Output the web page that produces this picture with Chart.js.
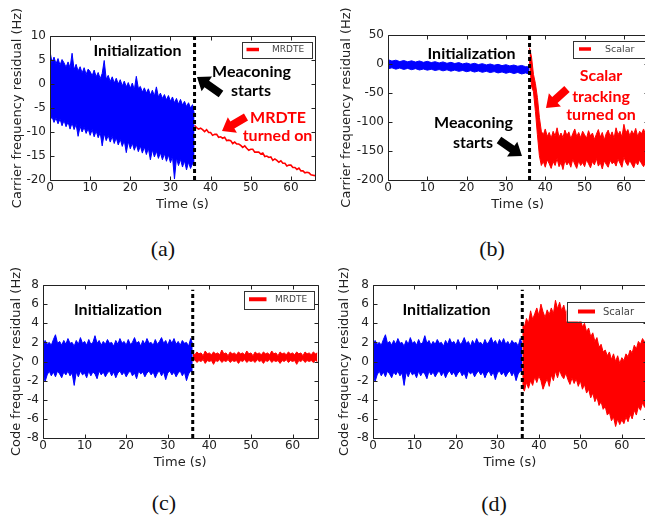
<!DOCTYPE html>
<html>
<head>
<meta charset="utf-8">
<script src="https://cdn.jsdelivr.net/npm/chart.js@4.4.0/dist/chart.umd.min.js"></script>
<style>
  html, body { margin: 0; padding: 0; width: 645px; height: 521px; overflow: hidden; background: #fff; }
  canvas.panel { position: absolute; }
  .cap { position: absolute; width: 100px; text-align: center; font-family: "Liberation Serif", "Times New Roman", serif;
         font-size: 22px; line-height: 22px; color: #111; }
</style>
</head>
<body>
<canvas id="pa" class="panel" width="330" height="230" style="left:0;top:0"></canvas>
<canvas id="pb" class="panel" width="330" height="230" style="left:330px;top:0"></canvas>
<canvas id="pc" class="panel" width="330" height="220" style="left:0;top:262px"></canvas>
<canvas id="pd" class="panel" width="330" height="220" style="left:330px;top:262px"></canvas>
<div class="cap" style="left:113px;top:238px">(a)</div>
<div class="cap" style="left:442px;top:238px">(b)</div>
<div class="cap" style="left:114px;top:492px">(c)</div>
<div class="cap" style="left:444px;top:493px">(d)</div>
<script>
// ---------------- data ----------------
const MEACONING_T = 36;           // meaconing onset (s)
const TIME_TICKS = [0, 10, 20, 30, 40, 50, 60];
const CARRIER_A_TICKS = [-20, -15, -10, -5, 0, 5, 10];
const CARRIER_B_TICKS = [-200, -150, -100, -50, 0, 50];
const CODE_TICKS = [-8, -6, -4, -2, 0, 2, 4, 6, 8];

// (a) carrier residual, initialization (0-36 s, every 0.5 s): upper / lower envelope
const carrierInitA_hi = [6.8,4.5,5.6,4.2,5.3,3.9,5.1,4.4,3.5,4.6,3.4,6.4,3.0,4.1,2.7,3.6,2.3,3.4,2.0,3.1,
  2.6,1.7,2.9,1.5,2.4,1.1,2.2,4.9,1.0,1.8,0.5,1.5,0.2,1.2,0.0,0.9,-0.4,0.6,-0.6,0.3,
  -0.9,0.2,-1.2,1.6,-0.9,-0.5,-1.7,-0.8,-1.9,-1.0,-2.3,-1.3,-2.5,-0.6,-2.7,-1.9,-3.0,-2.2,-3.3,-2.4,
  -3.6,-2.7,-3.9,-3.0,-4.2,-3.2,-4.4,-3.6,-4.7,-3.9,-5.0,-4.3,-6.5];
const carrierInitA_lo = [-7.6,-6.8,-8.0,-7.1,-8.3,-7.3,-8.7,-7.6,-8.9,-7.9,-9.4,-8.1,-9.5,-8.4,-10.9,-8.8,-10.0,-9.0,-10.3,-9.3,
  -10.7,-9.5,-11.0,-9.8,-11.2,-10.1,-12.9,-10.3,-11.8,-10.7,-12.1,-10.9,-12.4,-11.2,-12.7,-11.5,-13.0,-11.8,-14.3,-12.0,
  -13.5,-12.3,-13.8,-12.6,-14.1,-12.9,-14.4,-13.1,-14.7,-13.4,-15.8,-13.7,-15.2,-14.0,-15.5,-14.3,-15.8,-14.5,-16.1,-14.8,
  -16.4,-15.1,-19.8,-15.4,-17.0,-15.7,-17.3,-16.0,-17.9,-16.3,-17.6,-16.6,-17.1];
// (a) MRDTE carrier residual (36-66 s, every 0.5 s)
const carrierMRDTE = [-8.6,-9.1,-9.4,-9.2,-9.5,-9.9,-9.5,-10.1,-10.1,-10.7,-10.5,-10.5,-11.1,-11.0,-11.3,-11.1,-11.8,-11.7,-11.8,-12.4,
  -12.1,-12.5,-12.5,-12.8,-13.2,-12.9,-13.4,-13.8,-13.6,-13.6,-14.2,-14.2,-14.2,-14.6,-14.4,-15.1,-15.0,-15.3,-15.2,-15.9,
  -15.6,-15.9,-16.3,-16.0,-16.5,-16.5,-17.1,-16.9,-16.9,-17.4,-17.4,-17.8,-17.5,-18.1,-18.1,-18.5,-18.4,-18.5,-18.9,-19.0,-19.1];

// (b) carrier residual, initialization (0-36 s, every 1 s)
const carrierInitB_hi = [7.5,5.0,6.6,4.2,6.0,3.8,5.5,3.4,5.2,2.9,4.6,2.5,4.0,1.8,3.6,1.2,2.9,0.8,2.4,0.1,
  1.7,-0.4,1.2,-1.0,0.6,-1.6,0.0,-2.1,-0.6,-2.8,-1.2,-3.3,-1.8,-3.9,-2.5,-4.6,-5.0];
const carrierInitB_lo = [-8.2,-6.6,-8.9,-7.0,-9.4,-7.6,-9.8,-8.0,-10.3,-8.7,-10.6,-9.1,-11.2,-9.6,-11.8,-10.0,-12.3,-10.5,-12.7,-11.1,
  -13.3,-11.6,-13.9,-12.0,-14.4,-12.5,-14.8,-13.1,-15.4,-13.7,-16.0,-14.1,-16.5,-14.6,-17.2,-15.4,-17.6];
// (b) scalar tracking carrier residual (36-66 s, every 0.5 s)
const carrierScalar_hi = [28,12,-18,-34,-58,-92,-116,-122,-112,-125,-118,-128,-116,-124,-110,-126,-119,-127,-114,-123,
  -117,-129,-120,-112,-125,-118,-127,-116,-122,-128,-115,-124,-119,-130,-121,-113,-126,-118,-131,-120,
  -114,-125,-117,-128,-110,-122,-116,-126,-104,-119,-113,-124,-115,-121,-111,-125,-116,-120,-112,-122,-117];
const carrierScalar_lo = [5,-38,-48,-82,-122,-158,-175,-168,-178,-165,-172,-180,-168,-175,-163,-177,-170,-182,-166,-174,
  -169,-178,-164,-173,-180,-167,-175,-170,-177,-165,-172,-179,-168,-174,-163,-176,-170,-181,-167,-173,
  -178,-166,-172,-169,-176,-164,-171,-178,-160,-170,-175,-166,-173,-179,-168,-174,-165,-172,-177,-169,-173];

// (c)/(d) code residual, initialization (0-36 s, every 0.5 s)
const codeInit_hi = [1.6,2.2,1.8,2.0,1.7,2.3,2.8,1.9,2.1,1.7,2.2,1.8,2.4,1.9,2.0,1.6,2.2,1.8,2.5,1.9,
  2.1,1.7,2.3,1.8,2.0,2.7,1.9,2.2,1.7,2.1,1.8,2.3,1.9,2.0,1.6,2.2,1.8,2.4,1.9,2.1,
  1.7,2.3,1.8,2.0,2.5,1.9,2.1,1.6,2.2,1.8,2.4,1.9,2.0,1.7,2.3,1.8,2.1,2.5,1.9,2.2,
  1.7,2.3,1.9,2.4,1.8,2.1,1.7,2.2,1.9,2.0,1.6,2.4,1.8];
const codeInit_lo = [-1.2,-2.1,-1.4,-1.0,-1.5,-1.1,-1.6,-1.0,-1.3,-1.7,-1.1,-1.4,-1.0,-1.5,-1.2,-2.5,-1.1,-1.6,-1.0,-1.4,
  -1.2,-1.7,-1.0,-1.5,-1.1,-1.3,-1.8,-1.0,-1.4,-1.1,-1.6,-1.2,-1.0,-1.5,-1.1,-1.7,-1.2,-1.0,-1.4,-1.1,
  -1.6,-1.2,-1.0,-1.5,-1.2,-1.8,-1.0,-1.3,-1.1,-1.6,-1.2,-1.0,-1.4,-1.1,-1.7,-1.2,-1.0,-1.5,-1.1,-1.9,
  -1.2,-1.0,-1.4,-1.1,-1.6,-1.2,-1.0,-1.5,-1.1,-2.0,-1.3,-1.0,-1.2];
// (c) MRDTE code residual (36-66 s, every 0.5 s)
const codeMRDTE_hi = [0.9,0.7,1.0,0.8,0.9,0.6,1.1,0.8,0.9,0.7,1.0,0.8,0.9,0.7,1.2,0.8,0.9,0.6,1.0,0.8,
  0.9,0.7,1.0,0.8,0.9,0.7,1.1,0.8,0.9,0.6,1.0,0.8,0.9,0.7,1.0,0.8,0.9,0.7,1.1,0.8,
  0.9,0.6,1.0,0.8,0.9,0.7,1.0,0.8,0.9,0.7,1.0,0.8,0.9,0.6,1.0,0.8,0.9,0.7,1.0,0.8,0.9];
const codeMRDTE_lo = [0.0,0.2,-0.1,0.1,0.0,0.2,-0.2,0.1,0.0,0.1,-0.3,0.1,0.0,0.2,-0.1,0.1,0.0,0.2,-0.1,0.1,
  0.0,0.1,-0.2,0.1,0.0,0.2,-0.1,0.1,0.0,0.1,-0.1,0.2,0.0,0.1,-0.2,0.1,0.0,0.2,-0.1,0.1,
  0.0,0.1,-0.2,0.1,0.0,0.2,-0.1,0.1,0.0,0.1,-0.3,0.1,0.0,0.2,-0.1,0.1,0.0,0.1,-0.1,0.1,0.0];
// (d) scalar tracking code residual (36-66 s, every 0.5 s)
const codeScalar_hi = [4.0,3.6,4.5,4.0,5.3,4.4,5.0,5.6,4.8,6.0,5.2,4.6,5.4,4.9,5.6,5.0,6.4,5.5,6.2,5.3,
  5.9,5.0,5.6,4.6,5.3,4.3,4.9,4.0,4.5,3.6,4.0,3.1,3.5,2.6,3.0,2.1,2.5,1.5,1.8,1.0,
  1.2,0.6,1.0,0.2,0.8,0.0,0.6,-0.2,0.4,0.1,0.8,0.5,1.2,0.9,1.7,1.3,2.1,1.8,2.4,2.0,2.6];
const codeScalar_lo = [-2.6,-3.1,-2.2,-2.8,-2.0,-2.5,-1.6,-2.2,-1.5,-2.0,-2.9,-2.3,-1.8,-2.6,-1.4,-2.0,-1.0,-1.7,-0.9,-1.5,
  -1.8,-1.2,-1.9,-2.4,-1.7,-2.3,-1.8,-2.6,-2.0,-2.9,-2.4,-3.3,-2.9,-3.8,-3.3,-4.2,-3.7,-4.6,-4.2,-5.0,
  -4.7,-5.6,-5.3,-6.2,-5.8,-6.8,-6.0,-6.6,-6.1,-6.5,-5.8,-6.3,-5.5,-6.0,-5.1,-5.6,-4.7,-5.1,-4.3,-4.8,-4.0];

// ---------------- helpers ----------------
const BLUE = '#0000ff', RED = '#ff0000';
const TICK_FONT = { family: 'DejaVu Sans', size: 12 };
const TITLE_FONT = { family: 'DejaVu Sans', size: 13 };

// sample list -> {x, y} points on a regular time grid
function samples(t0, dt, values) {
  return values.map((v, i) => ({ x: t0 + i * dt, y: v }));
}

function drawArrow(ctx, a) {
  const [x1, y1] = a.from, [x2, y2] = a.to;
  const dx = x2 - x1, dy = y2 - y1, len = Math.hypot(dx, dy);
  const ux = dx / len, uy = dy / len, nx = -uy, ny = ux;
  const sw = a.shaft / 2, hw = a.head / 2;
  const bx = x2 - ux * a.headLen, by = y2 - uy * a.headLen;
  ctx.fillStyle = a.color;
  ctx.beginPath();
  ctx.moveTo(x1 + nx * sw, y1 + ny * sw);
  ctx.lineTo(bx + nx * sw, by + ny * sw);
  ctx.lineTo(bx + nx * hw, by + ny * hw);
  ctx.lineTo(x2, y2);
  ctx.lineTo(bx - nx * hw, by - ny * hw);
  ctx.lineTo(bx - nx * sw, by - ny * sw);
  ctx.lineTo(x1 - nx * sw, y1 - ny * sw);
  ctx.closePath();
  ctx.fill();
}

// axes frame with inward ticks, legend box, text notes and block arrows
function decorPlugin(spec) {
  return {
    id: 'decor',
    afterDraw(chart) {
      const ctx = chart.ctx;
      const { left, right, top, bottom } = chart.chartArea;
      const xs = chart.scales.x, ys = chart.scales.y;
      ctx.save();
      const L = Math.round(left) + 0.5, R = Math.round(right) + 0.5;
      const T = Math.round(top) + 0.5, B = Math.round(bottom) + 0.5;
      ctx.strokeStyle = '#222';
      ctx.lineWidth = 1;
      ctx.beginPath();
      ctx.rect(L, T, R - L, B - T);
      xs.ticks.forEach(t => {
        const p = Math.round(xs.getPixelForValue(t.value)) + 0.5;
        ctx.moveTo(p, B); ctx.lineTo(p, B - 4);
        ctx.moveTo(p, T); ctx.lineTo(p, T + 4);
      });
      ys.ticks.forEach(t => {
        const p = Math.round(ys.getPixelForValue(t.value)) + 0.5;
        ctx.moveTo(L, p); ctx.lineTo(L + 4, p);
        ctx.moveTo(R, p); ctx.lineTo(R - 4, p);
      });
      ctx.stroke();

      ctx.translate(-spec.ox, -spec.oy);
      const lg = spec.legend;
      const my = lg.y + lg.h / 2;
      ctx.fillStyle = '#fff';
      ctx.fillRect(lg.x, lg.y, lg.w, lg.h);
      ctx.strokeStyle = '#333';
      ctx.lineWidth = 1;
      ctx.strokeRect(Math.round(lg.x) + 0.5, Math.round(lg.y) + 0.5, Math.round(lg.w), Math.round(lg.h));
      ctx.strokeStyle = RED;
      ctx.lineWidth = lg.lw;
      ctx.beginPath(); ctx.moveTo(lg.x1, my); ctx.lineTo(lg.x2, my); ctx.stroke();
      ctx.fillStyle = '#444';
      ctx.font = lg.size + 'px "DejaVu Sans"';
      ctx.textAlign = 'left';
      ctx.textBaseline = 'middle';
      ctx.fillText(lg.label, lg.tx, my + 0.5);

      ctx.textAlign = 'center';
      spec.notes.forEach(n => {
        ctx.font = 'bold ' + (n.size || 16) + 'px Lato';
        ctx.fillStyle = n.color;
        ctx.fillText(n.text, n.x, n.y);
      });
      spec.arrows.forEach(a => drawArrow(ctx, a));
      ctx.restore();
    }
  };
}

function makePanel(id, p) {
  const datasets = [{
    data: [{ x: MEACONING_T, y: p.vline[0] }, { x: MEACONING_T, y: p.vline[1] }],
    borderColor: '#000', borderWidth: 3, borderDash: [4, 3], pointRadius: 0, fill: false, order: 0
  }];
  p.bands.forEach(b => {
    datasets.push({ label: b.label, data: b.hi, borderColor: b.color, borderWidth: 1, pointRadius: 0,
                    fill: { target: '+1', above: b.color, below: b.color }, order: 1 });
    datasets.push({ data: b.lo, borderColor: b.color, borderWidth: 1, pointRadius: 0, fill: false, order: 1 });
  });
  (p.lines || []).forEach(l => {
    datasets.push({ label: l.label, data: l.data, borderColor: l.color, borderWidth: 1.6, pointRadius: 0, fill: false, order: 1 });
  });

  return new Chart(document.getElementById(id), {
    type: 'line',
    data: { datasets },
    options: {
      responsive: false, animation: false, events: [],
      parsing: false, normalized: true,
      layout: { padding: p.pad },
      plugins: { legend: { display: false }, tooltip: { enabled: false } },
      scales: {
        x: {
          type: 'linear', min: 0, max: 66,
          grid: { display: false, drawTicks: false }, border: { display: false },
          afterBuildTicks: s => { s.ticks = TIME_TICKS.map(v => ({ value: v })); },
          ticks: { font: TICK_FONT, color: '#222', padding: 1, maxRotation: 0, autoSkip: false },
          title: { display: true, text: 'Time (s)', font: TITLE_FONT, color: '#222', padding: 0 },
          afterFit: s => { s.height = 32; }
        },
        y: {
          type: 'linear', min: p.yRange[0], max: p.yRange[1],
          grid: { display: false, drawTicks: false }, border: { display: false },
          afterBuildTicks: s => { s.ticks = p.yTicks.map(v => ({ value: v })); },
          ticks: { font: TICK_FONT, color: '#222', padding: 4, autoSkip: false },
          title: { display: true, text: p.yTitle, font: TITLE_FONT, color: '#222', padding: { top: p.titlePad, bottom: 0 } },
          afterFit: s => { s.width = p.yWidth; }
        }
      }
    },
    plugins: [decorPlugin(p.decor)]
  });
}

const BLACK_ARROW = { color: '#000', shaft: 8, head: 18, headLen: 12 };
const RED_ARROW = { color: RED, shaft: 8, head: 18, headLen: 12 };

// (a) carrier frequency residual with MRDTE
makePanel('pa', {
  yRange: [-20, 10], yTicks: CARRIER_A_TICKS, yTitle: 'Carrier frequency residual (Hz)',
  yWidth: 50, titlePad: 10, pad: { top: 36, right: 15, bottom: 18, left: 0 },
  vline: [-20, 10],
  bands: [{ color: BLUE, hi: samples(0, 0.5, carrierInitA_hi), lo: samples(0, 0.5, carrierInitA_lo) }],
  lines: [{ label: 'MRDTE', color: RED, data: samples(MEACONING_T, 0.5, carrierMRDTE) }],
  decor: {
    ox: 0, oy: 0,
    legend: { x: 241.5, y: 41.5, w: 70, h: 16, x1: 246.5, x2: 259, tx: 272, lw: 3.5, size: 9, label: 'MRDTE' },
    notes: [
      { text: 'Initialization', x: 137.5, y: 51, color: '#000' },
      { text: 'Meaconing', x: 251.5, y: 72, color: '#000' },
      { text: 'starts', x: 251, y: 91, color: '#000' },
      { text: 'MRDTE', x: 278, y: 117.5, color: RED },
      { text: 'turned on', x: 277.5, y: 136, color: RED }
    ],
    arrows: [
      Object.assign({ from: [221, 94], to: [197, 77] }, BLACK_ARROW),
      Object.assign({ from: [246, 117], to: [222, 131] }, RED_ARROW)
    ]
  }
});

// (b) carrier frequency residual with scalar tracking
makePanel('pb', {
  yRange: [-200, 50], yTicks: CARRIER_B_TICKS, yTitle: 'Carrier frequency residual (Hz)',
  yWidth: 58, titlePad: 9, pad: { top: 35, right: 12.5, bottom: 18, left: 0 },
  vline: [-200, 50],
  bands: [
    { color: BLUE, hi: samples(0, 1, carrierInitB_hi), lo: samples(0, 1, carrierInitB_lo) },
    { label: 'Scalar', color: RED, hi: samples(MEACONING_T, 0.5, carrierScalar_hi), lo: samples(MEACONING_T, 0.5, carrierScalar_lo) }
  ],
  decor: {
    ox: 330, oy: 0,
    legend: { x: 573, y: 40.5, w: 71.5, h: 17, x1: 579, x2: 591, tx: 605, lw: 3.5, size: 9.5, label: 'Scalar' },
    notes: [
      { text: 'Initialization', x: 471.5, y: 53.5, color: '#000' },
      { text: 'Meaconing', x: 473.5, y: 123, color: '#000' },
      { text: 'starts', x: 473, y: 143, color: '#000' },
      { text: 'Scalar', x: 601, y: 76, color: RED },
      { text: 'tracking', x: 601, y: 96.5, color: RED },
      { text: 'turned on', x: 601, y: 115, color: RED }
    ],
    arrows: [
      Object.assign({ from: [499, 140], to: [522, 156] }, BLACK_ARROW),
      Object.assign({ from: [567, 89], to: [546, 108] }, RED_ARROW)
    ]
  }
});

// (c) code frequency residual with MRDTE
makePanel('pc', {
  yRange: [-8, 8], yTicks: CODE_TICKS, yTitle: 'Code frequency residual (Hz)',
  yWidth: 43, titlePad: 9, pad: { top: 23, right: 12.5, bottom: 12, left: 0 },
  vline: [-8, 7.5],
  bands: [
    { color: BLUE, hi: samples(0, 0.5, codeInit_hi), lo: samples(0, 0.5, codeInit_lo) },
    { label: 'MRDTE', color: RED, hi: samples(MEACONING_T, 0.5, codeMRDTE_hi), lo: samples(MEACONING_T, 0.5, codeMRDTE_lo) }
  ],
  decor: {
    ox: 0, oy: 262,
    legend: { x: 244, y: 290.5, w: 69.5, h: 17.5, x1: 249, x2: 266.5, tx: 275, lw: 4, size: 9, label: 'MRDTE' },
    notes: [{ text: 'Initialization', x: 118, y: 310, color: '#000' }],
    arrows: []
  }
});

// (d) code frequency residual with scalar tracking
makePanel('pd', {
  yRange: [-8, 8], yTicks: CODE_TICKS, yTitle: 'Code frequency residual (Hz)',
  yWidth: 43, titlePad: 7, pad: { top: 23, right: 13.3, bottom: 12, left: 0 },
  vline: [-8, 7.5],
  bands: [
    { color: BLUE, hi: samples(0, 0.5, codeInit_hi), lo: samples(0, 0.5, codeInit_lo) },
    { label: 'Scalar', color: RED, hi: samples(MEACONING_T, 0.5, codeScalar_hi), lo: samples(MEACONING_T, 0.5, codeScalar_lo) }
  ],
  decor: {
    ox: 330, oy: 262,
    legend: { x: 566.5, y: 301.5, w: 85, h: 20, x1: 578, x2: 595, tx: 603, lw: 4, size: 10, label: 'Scalar' },
    notes: [{ text: 'Initialization', x: 446.5, y: 310, color: '#000' }],
    arrows: []
  }
});
</script>
</body>
</html>
